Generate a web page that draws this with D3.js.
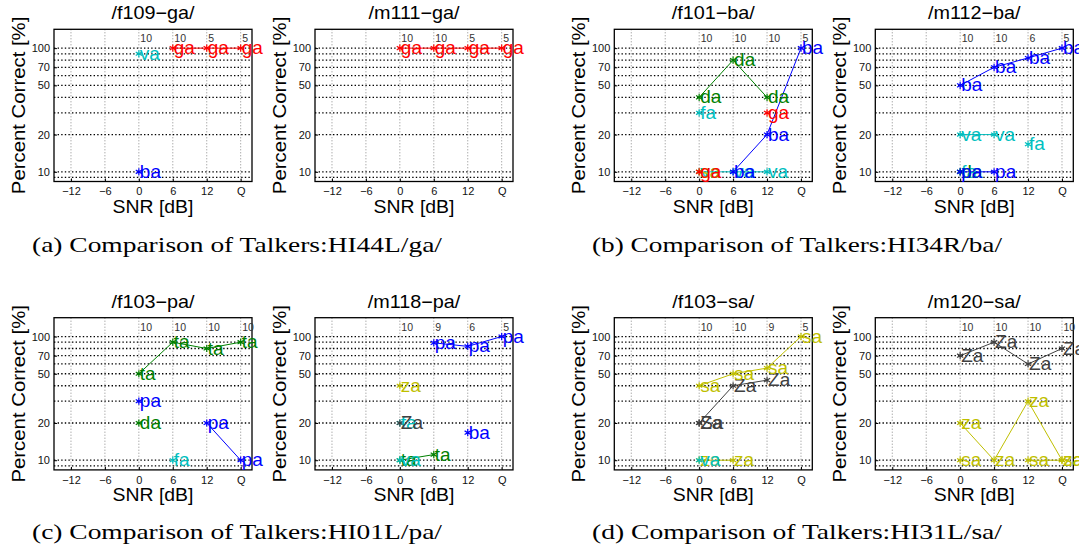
<!DOCTYPE html>
<html>
<head>
<meta charset="utf-8">
<script src="https://cdn.jsdelivr.net/npm/d3@7"></script>
<style>
  body { margin: 0; background: #fff; }
  svg { display: block; font-family: "Liberation Sans", Arial, Helvetica, sans-serif; }
  .cap { font-family: "Liberation Serif", "Times New Roman", serif; }
</style>
</head>
<body>
<script>
// SNR positions, Q (quiet) is drawn at 18
var snrTicks = [-12, -6, 0, 6, 12, 18],
    snrTickLabels = ["\u221212", "\u22126", "0", "6", "12", "Q"],
    snrPoints = [0, 6, 12, 18];

var yTicks = [10, 20, 50, 70, 100],
    yGrid = [9, 10, 20, 30, 40, 50, 60, 70, 80, 90, 100];

var titles = ["/f109\u2212ga/", "/m111\u2212ga/", "/f101\u2212ba/", "/m112\u2212ba/",
              "/f103\u2212pa/", "/m118\u2212pa/", "/f103\u2212sa/", "/m120\u2212sa/"];

// number of trials at SNR 0, 6, 12, Q
var counts = [[10, 10, 5, 5], [10, 10, 5, 5], [10, 10, 10, 5], [10, 10, 6, 5],
              [10, 10, 10, 10], [10, 9, 6, 5], [10, 10, 9, 5], [10, 10, 10, 10]];

var captions = ["(a) Comparison of Talkers:HI44L/ga/", "(b) Comparison of Talkers:HI34R/ba/",
                "(c) Comparison of Talkers:HI01L/pa/", "(d) Comparison of Talkers:HI31L/sa/"];

// percent of responses per token at SNR 0, 6, 12, Q (null = no response)
var f109ga = [["va", [90, null, null, null]], ["ba", [10, null, null, null]],
              ["ga", [null, 100, 100, 100]]];
var m111ga = [["ga", [100, 100, 100, 100]]];
var f101ba = [["va", [10, 10, 10, null]], ["sa", [10, null, null, null]],
              ["ga", [10, null, 30, null]], ["fa", [30, null, null, null]],
              ["da", [40, 80, 40, null]], ["ba", [null, 10, 20, 100]]];
var m112ba = [["fa", [10, null, 16.7, null]], ["da", [10, null, null, null]],
              ["pa", [10, 10, null, null]], ["va", [20, 20, null, null]],
              ["ba", [50, 70, 83.3, 100]]];
var f103pa = [["fa", [null, 10, null, null]], ["da", [20, null, null, null]],
              ["pa", [30, null, 20, 10]], ["ta", [50, 90, 80, 90]]];
var m118pa = [["ta", [10, 11.1, null, null]], ["va", [10, null, null, null]],
              ["fa", [20, null, null, null]], ["Za", [20, null, null, null]],
              ["za", [40, null, null, null]], ["ba", [null, null, 16.7, null]],
              ["pa", [null, 88.9, 83.3, 100]]];
var f103sa = [["za", [10, 10, null, null]], ["va", [10, null, null, null]],
              ["Za", [20, 40, 44.4, null]], ["Sa", [20, null, null, null]],
              ["sa", [40, 50, 55.6, 100]]];
var m120sa = [["sa", [10, null, 10, 10]], ["za", [20, 10, 30, 10]],
              ["Za", [70, 90, 60, 80]]];

var panels = [f109ga, m111ga, f101ba, m112ba, f103pa, m118pa, f103sa, m120sa];

// token order -> matlab colour order (b g r c m y k)
var tokens = ["pa", "ta", "ka", "fa", "Ta", "sa", "Sa", "ba", "da", "ga", "va", "Da", "za", "Za"],
    palette = ["#0000ff", "#008000", "#ff0000", "#00bfbf", "#bf00bf", "#bfbf00", "#404040"];

function tokenColor(t) { return palette[tokens.indexOf(t) % palette.length]; }

// layout
var colX = [54, 315, 614.3, 875.3],
    rowY = [29.3, 317.7],
    pw = 198, ph = 152.2;

var svg = d3.select("body").append("svg")
    .attr("width", 1079)
    .attr("height", 554);

var x = d3.scaleLinear().domain([-15, 20]).range([0, pw]);
var y = d3.scaleLog().domain([8.35, 142]).range([ph, 0]);

var line = d3.line()
    .defined(function(d) { return d[1] != null; })
    .x(function(d) { return x(d[0]); })
    .y(function(d) { return y(d[1]); });

var star = d3.symbol().type(d3.symbolAsterisk).size(36);

panels.forEach(function(series, i) {
  var g = svg.append("g")
      .attr("transform", "translate(" + colX[i % 4] + "," + rowY[Math.floor(i / 4)] + ")");

  // grid
  g.selectAll(".vgrid")
      .data(snrTicks)
    .enter().append("line")
      .attr("x1", x).attr("x2", x)
      .attr("y1", 0).attr("y2", ph)
      .attr("stroke", "#8a8a8a")
      .attr("stroke-dasharray", "1,2");

  g.selectAll(".hgrid")
      .data(yGrid)
    .enter().append("line")
      .attr("x1", 0).attr("x2", pw)
      .attr("y1", y).attr("y2", y)
      .attr("stroke", "#000")
      .attr("stroke-width", 1.3)
      .attr("stroke-dasharray", "1.4,2.2");

  // axes
  var xa = g.append("g")
      .attr("transform", "translate(0," + ph + ")")
      .call(d3.axisBottom(x).tickValues(snrTicks)
        .tickFormat(function(d, j) { return snrTickLabels[j]; })
        .tickSize(-3).tickPadding(6));
  var ya = g.append("g")
      .call(d3.axisLeft(y).tickValues(yTicks).tickFormat(d3.format("d"))
        .tickSize(-3).tickPadding(4));
  [xa, ya].forEach(function(a) {
    a.select(".domain").remove();
    a.selectAll("text").style("font-size", "11px").style("font-family", null).attr("fill", "#111");
    a.selectAll("line").attr("stroke", "#000");
  });

  g.append("rect")
      .attr("width", pw).attr("height", ph)
      .attr("fill", "none")
      .attr("stroke", "#000")
      .attr("stroke-width", 1.3);

  // title and labels
  g.append("text")
      .attr("transform", "translate(" + pw / 2 + ",-10) scale(1.1,1)")
      .attr("text-anchor", "middle")
      .style("font-size", "18px")
      .text(titles[i]);

  g.append("text")
      .attr("transform", "translate(" + pw / 2 + "," + (ph + 31) + ") scale(1.05,1)")
      .attr("text-anchor", "middle")
      .style("font-size", "18.5px")
      .text("SNR [dB]");

  g.append("text")
      .attr("transform", "translate(-29.5," + ph / 2 + ") rotate(-90) scale(1.1,1)")
      .attr("text-anchor", "middle")
      .style("font-size", "18.5px")
      .text("Percent Correct [%]");

  // trial counts along the top
  g.selectAll(".count")
      .data(counts[i])
    .enter().append("text")
      .attr("x", function(d, j) { return x(snrPoints[j]) + 1.5; })
      .attr("y", 9.2)
      .attr("dy", "0.35em")
      .attr("fill", "#333")
      .style("font-size", "10.5px")
      .text(function(d) { return d; });

  // response series
  series.forEach(function(s) {
    var pts = s[1].map(function(v, j) { return [snrPoints[j], v]; });
    var c = tokenColor(s[0]);
    g.append("path")
        .datum(pts)
        .attr("d", line)
        .attr("fill", "none")
        .attr("stroke", c)
        .attr("stroke-width", 1);
    g.selectAll(null)
        .data(pts.filter(function(d) { return d[1] != null; }))
      .enter().append("path")
        .attr("d", star)
        .attr("transform", function(d) { return "translate(" + x(d[0]) + "," + y(d[1]) + ")"; })
        .attr("fill", "none")
        .attr("stroke", c)
        .attr("stroke-width", 1.2);
  });
  series.forEach(function(s) {
    var pts = s[1].map(function(v, j) { return [snrPoints[j], v]; });
    g.selectAll(null)
        .data(pts.filter(function(d) { return d[1] != null; }))
      .enter().append("text")
        .attr("x", function(d) { return x(d[0]) + 1; })
        .attr("y", function(d) { return y(d[1]); })
        .attr("dy", "0.32em")
        .attr("fill", tokenColor(s[0]))
        .style("font-size", "19px")
        .text(s[0]);
  });
});

// sub-figure captions
var capX = [32, 592], capY = [252, 539];
captions.forEach(function(c, i) {
  svg.append("text")
      .attr("class", "cap")
      .attr("x", capX[i % 2])
      .attr("y", capY[Math.floor(i / 2)])
      .attr("textLength", 410)
      .attr("lengthAdjust", "spacingAndGlyphs")
      .style("font-size", "22px")
      .text(c);
});
</script>
</body>
</html>
